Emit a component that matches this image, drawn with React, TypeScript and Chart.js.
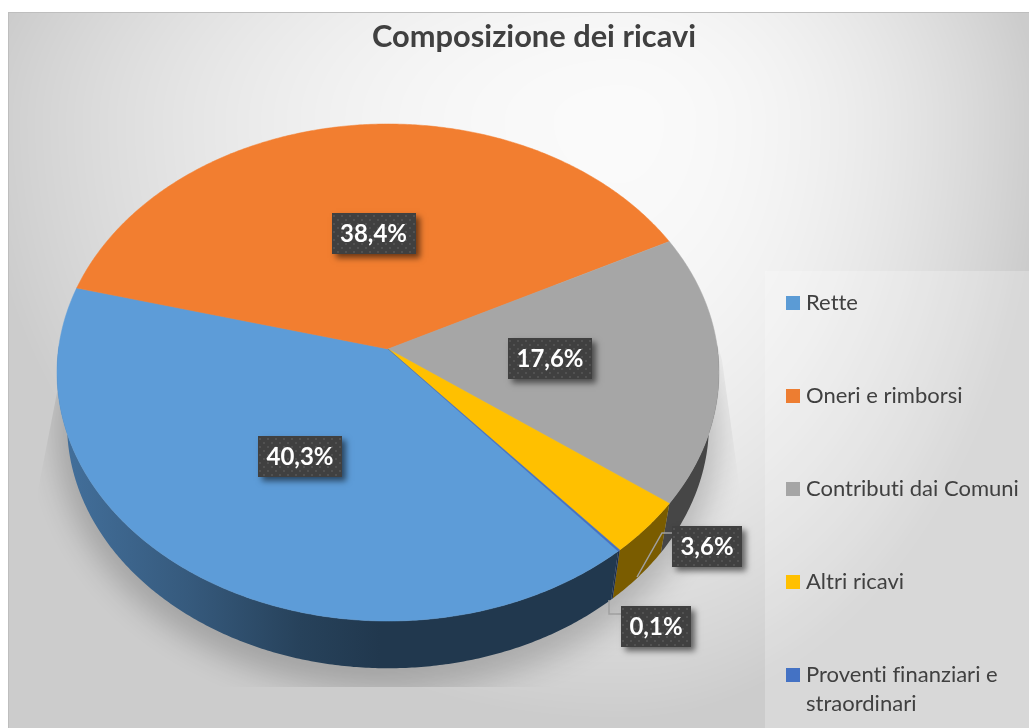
import React, { useEffect, useRef } from "react";
import { Chart, registerables } from "chart.js";

Chart.register(...registerables);

const TITLE = "Composizione dei ricavi";
const categories = ["Rette", "Oneri e rimborsi", "Contributi dai Comuni", "Altri ricavi", "Proventi finanziari e straordinari"];
const revenueShares = [40.3, 38.4, 17.6, 3.6, 0.1];
const sliceColors = ["#5D9CD8", "#F27E30", "#A6A6A6", "#FFC000", "#4472C4"];
const legendColors = ["#5B9BD5", "#ED7D31", "#A5A5A5", "#FFC000", "#4472C4"];
const wallShades = [0.36, 0.45, 0.42, 0.48, 0.4];
const labelCenters = [[300, 456.5], [373.5, 233], [550, 358.5], [707, 546], [656, 626.5]];
const labelBoxWidths = [84, 84, 84, 70, 70];
const leaderLines = [
  [],
  [],
  [],
  [[672, 533], [662, 533], [637, 577]],
  [[621, 614], [609, 614], [609, 600]],
];
const legendRows = [303, 396, 489, 582, 675];
const legendLines = [["Rette"], ["Oneri e rimborsi"], ["Contributi dai Comuni"], ["Altri ricavi"], ["Proventi finanziari e", "straordinari"]];

const FACE = { a: 329.5, b: 246.3, k: 0.0946, dy: 0 };
const BASE = { a: 319.5, b: 242, k: 0.0946, dy: 52 };
const SHADOW = { a: 330, b: 258, k: 0.0946, dy: 56 };
const FONT = "Lato, Carlito, 'Open Sans', sans-serif";

function project(el: any, p: any, angle: number) {
  const u = Math.cos(angle);
  const v = Math.sin(angle);
  const w = 1 - p.k * v;
  return [el.x + (p.a * u) / w, el.y + p.dy + (p.b * v) / w];
}

function scaleColor(hex: string, f: number) {
  const n = parseInt(hex.slice(1), 16);
  const c = [(n >> 16) & 255, (n >> 8) & 255, n & 255].map((x) => Math.round(x * f));
  return `rgb(${c[0]},${c[1]},${c[2]})`;
}

function rimPath(ctx: any, el: any, p: any, shiftX: number) {
  ctx.beginPath();
  for (let i = 0; i <= 360; i += 1) {
    const q = project(el, p, (i * Math.PI) / 180);
    if (i === 0) ctx.moveTo(q[0] + shiftX, q[1]);
    else ctx.lineTo(q[0] + shiftX, q[1]);
  }
  ctx.closePath();
}

const backdropPlugin = {
  id: "backdrop",
  beforeDraw(chart: any) {
    const ctx = chart.ctx;
    const W = chart.width;
    const H = chart.height;
    const img = ctx.createImageData(W, H);
    for (let y = 0; y < H; y++) {
      for (let x = 0; x < W; x++) {
        const i = (y * W + x) * 4;
        let g = 255;
        if (y >= 13 && x >= 9) {
          const dx = x - 620;
          const dy = y - 120;
          const hx = dx < 0 ? 640 : 420;
          const hy = dy < 0 ? 340 : 600;
          const t = Math.min(1, Math.sqrt((dx * dx) / (hx * hx) + (dy * dy) / (hy * hy)));
          g = 250 - 46 * Math.pow(t, 2);
        } else if (y >= 12 && x >= 8) {
          g = 190;
        }
        img.data[i] = img.data[i + 1] = img.data[i + 2] = g;
        img.data[i + 3] = 255;
      }
    }
    ctx.putImageData(img, 0, 0);
    ctx.save();
    ctx.fillStyle = "rgba(255,255,255,0.24)";
    ctx.fillRect(765, 271, W - 765, H - 271);
    ctx.restore();
  },
};

const tiltedPiePlugin = {
  id: "tiltedPie",
  beforeDatasetDraw(chart: any) {
    const ctx = chart.ctx;
    const arcs = chart.getDatasetMeta(0).data;
    const el = arcs[0];
    ctx.save();

    // Cast shadow only: the shape itself is off the canvas
    ctx.save();
    ctx.beginPath();
    ctx.moveTo(78, 285);
    ctx.lineTo(700, 285);
    ctx.lineTo(722, 360);
    ctx.lineTo(740, 490);
    ctx.lineTo(740, 687);
    ctx.lineTo(38, 687);
    ctx.lineTo(38, 490);
    ctx.closePath();
    ctx.clip();
    ctx.shadowColor = "rgba(0,0,0,0.2)";
    ctx.shadowBlur = 30;
    ctx.shadowOffsetX = 3000;
    ctx.shadowOffsetY = 0;
    ctx.fillStyle = "#000";
    rimPath(ctx, el, SHADOW, -3000);
    ctx.fill();
    ctx.restore();

    // Side walls
    arcs.forEach((arc: any, i: number) => {
      const step = Math.PI / 360;
      const angles: number[] = [];
      for (let a = arc.startAngle; a < arc.endAngle; a += step) {
        if (Math.sin(a) > -0.02) angles.push(a);
      }
      if (Math.sin(arc.endAngle) > -0.02) angles.push(arc.endAngle);
      if (angles.length < 2) return;
      ctx.beginPath();
      angles.forEach((a, j) => {
        const q = project(arc, FACE, a);
        if (j) ctx.lineTo(q[0], q[1]);
        else ctx.moveTo(q[0], q[1]);
      });
      angles.slice().reverse().forEach((a) => {
        const q = project(arc, BASE, a);
        ctx.lineTo(q[0], q[1]);
      });
      ctx.closePath();
      if (i === 0) {
        const g = ctx.createLinearGradient(60, 0, 380, 0);
        g.addColorStop(0, scaleColor(sliceColors[0], 0.72));
        g.addColorStop(0.4, scaleColor(sliceColors[0], 0.58));
        g.addColorStop(0.75, scaleColor(sliceColors[0], 0.42));
        g.addColorStop(1, scaleColor(sliceColors[0], wallShades[0]));
        ctx.fillStyle = g;
      } else {
        ctx.fillStyle = scaleColor(sliceColors[i], wallShades[i]);
      }
      ctx.fill();
    });

    // Top faces
    arcs.forEach((arc: any) => {
      const col = arc.options.backgroundColor;
      ctx.fillStyle = col;
      ctx.strokeStyle = col;
      ctx.lineWidth = 0.5;
      ctx.beginPath();
      ctx.moveTo(arc.x, arc.y);
      const step = Math.PI / 360;
      for (let a = arc.startAngle; a < arc.endAngle; a += step) {
        const q = project(arc, FACE, a);
        ctx.lineTo(q[0], q[1]);
      }
      const e = project(arc, FACE, arc.endAngle);
      ctx.lineTo(e[0], e[1]);
      ctx.closePath();
      ctx.fill();
      ctx.stroke();
    });
    ctx.restore();
    return false;
  },
  afterDatasetsDraw(chart: any) {
    const ctx = chart.ctx;
    ctx.save();
    ctx.letterSpacing = "0.01px";

    // Title
    ctx.fillStyle = "#404040";
    ctx.font = `bold 30.8px ${FONT}`;
    ctx.textAlign = "center";
    ctx.textBaseline = "alphabetic";
    ctx.fillText(TITLE, 534, 47);

    // Leader lines
    ctx.strokeStyle = "#a0a0a0";
    ctx.lineWidth = 1.5;
    leaderLines.forEach((line) => {
      if (!line.length) return;
      ctx.beginPath();
      line.forEach((p, i) => (i ? ctx.lineTo(p[0], p[1]) : ctx.moveTo(p[0], p[1])));
      ctx.stroke();
    });

    // Data labels
    revenueShares.forEach((v, i) => {
      const [cx, cy] = labelCenters[i];
      const w = labelBoxWidths[i];
      const h = 41;
      const x = Math.round(cx - w / 2);
      const y = Math.round(cy - h / 2);
      ctx.save();
      ctx.shadowColor = "rgba(0,0,0,0.55)";
      ctx.shadowBlur = 6;
      ctx.shadowOffsetX = 4;
      ctx.shadowOffsetY = 4;
      ctx.fillStyle = "#404040";
      ctx.fillRect(x, y, w, h);
      ctx.restore();
      ctx.fillStyle = "rgba(255,255,255,0.09)";
      for (let r = 0; r * 4 + 2 < h; r++) {
        for (let c = r % 2 ? 4 : 0; c + 2 < w; c += 8) {
          ctx.fillRect(x + c + 1, y + r * 4 + 2, 2, 2);
        }
      }
      ctx.fillStyle = "#ffffff";
      ctx.font = `bold 24px ${FONT}`;
      ctx.textAlign = "center";
      ctx.textBaseline = "middle";
      ctx.fillText(v.toFixed(1).replace(".", ",") + "%", cx, cy + 1);
    });

    // Legend
    categories.forEach((_, i) => {
      const y = legendRows[i];
      ctx.fillStyle = legendColors[i];
      ctx.fillRect(786, y - 7, 14, 14);
      ctx.fillStyle = "#404040";
      ctx.font = `22px ${FONT}`;
      ctx.textAlign = "left";
      ctx.textBaseline = "middle";
      legendLines[i].forEach((t, j) => ctx.fillText(t, 806, y + j * 29));
    });
    ctx.restore();
  },
};

export default function App() {
  const ref = useRef<HTMLCanvasElement | null>(null);
  useEffect(() => {
    const chart = new Chart(ref.current as HTMLCanvasElement, {
      type: "pie",
      data: {
        labels: categories,
        datasets: [{ data: revenueShares, backgroundColor: sliceColors, borderWidth: 0 }],
      },
      options: {
        animation: false,
        responsive: false,
        devicePixelRatio: 1,
        events: [],
        rotation: 139.6,
        layout: { padding: { left: 0, right: 253, top: 0, bottom: 30 } },
        plugins: { legend: { display: false }, tooltip: { enabled: false }, title: { display: false } },
      },
      plugins: [backdropPlugin, tiltedPiePlugin],
    } as any);
    return () => chart.destroy();
  }, []);
  return (
    <canvas
      ref={ref}
      width={1029}
      height={728}
      style={{ position: "fixed", left: 0, top: 0, width: 1029, height: 728, display: "block" }}
    />
  );
}
